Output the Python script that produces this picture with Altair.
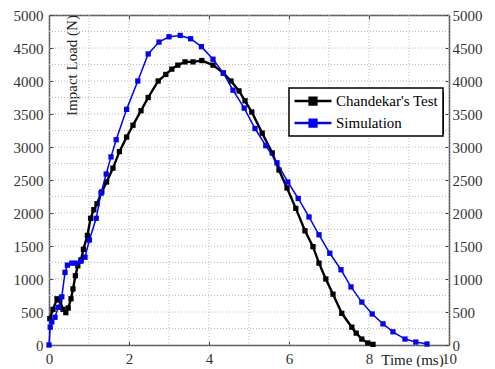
import altair as alt
import pandas as pd

test_t = [0.02, 0.1, 0.2, 0.27, 0.35, 0.42, 0.48, 0.55, 0.6, 0.66, 0.72, 0.8, 0.86, 0.96,
          1.04, 1.12, 1.2, 1.32, 1.44, 1.6, 1.76, 1.94, 2.1, 2.3, 2.48, 2.73, 2.92, 3.07,
          3.22, 3.4, 3.6, 3.82, 4.1, 4.36, 4.55, 4.75, 4.9, 5.07, 5.33, 5.58, 5.75, 5.95,
          6.17, 6.4, 6.6, 6.75, 6.92, 7.1, 7.32, 7.57, 7.68, 7.82, 7.97, 8.1]
test_f = [400, 540, 700, 680, 540, 490, 560, 700, 850, 1050, 1200, 1290, 1450, 1660,
          1920, 2050, 2140, 2320, 2470, 2680, 2930, 3150, 3330, 3550, 3750, 4000, 4100, 4180,
          4240, 4290, 4290, 4310, 4240, 4120, 4000, 3850, 3700, 3530, 3210, 2910, 2650, 2380,
          2070, 1730, 1490, 1240, 1000, 770, 480, 270, 180, 90, 30, 10]

sim_t = [0, 0.03, 0.07, 0.15, 0.23, 0.32, 0.4, 0.46, 0.57, 0.68, 0.8, 0.9, 1.01, 1.18,
         1.3, 1.43, 1.55, 1.68, 1.94, 2.22, 2.48, 2.75, 3.0, 3.28, 3.54, 3.81, 4.1, 4.36,
         4.6, 4.88, 5.15, 5.42, 5.7, 5.97, 6.23, 6.5, 6.75, 7.02, 7.3, 7.55, 7.82, 8.08,
         8.35, 8.6, 8.9, 9.17, 9.45]
sim_f = [0, 270, 350, 420, 570, 730, 1100, 1210, 1240, 1240, 1270, 1330, 1590, 1920,
         2300, 2590, 2850, 3110, 3570, 4000, 4410, 4590, 4670, 4690, 4640, 4520, 4330, 4120,
         3860, 3590, 3280, 3020, 2760, 2470, 2220, 1940, 1670, 1390, 1140, 880, 650, 470,
         320, 200, 90, 45, 15]

series_names = ["Chandekar's Test", "Simulation"]
series_colors = ["#000000", "#0000ff"]

x_grid = list(range(0, 11))
y_grid = list(range(0, 5001, 250))
x_ticks = [0, 2, 4, 6, 8, 10]
y_ticks = list(range(0, 5001, 500))

df_test = pd.DataFrame({"t": test_t, "F": test_f, "series": series_names[0]})
df_sim = pd.DataFrame({"t": sim_t, "F": sim_f, "series": series_names[1]})

FONT = "Liberation Serif, Times New Roman, serif"
xs = alt.Scale(domain=[0, 10], nice=False)
ys = alt.Scale(domain=[0, 5000], nice=False)
cs = alt.Scale(domain=series_names, range=series_colors)

legend = alt.Legend(
    title=None, orient="none", legendX=240, legendY=73,
    strokeColor="black", fillColor="white", padding=4,
    labelFont=FONT, labelFontSize=15, labelColor="black", labelOffset=25,
    symbolType="M-1,0L3.93,0M1.02,-0.45L1.92,-0.45L1.92,0.45L1.02,0.45Z",
    symbolSize=225, symbolStrokeWidth=2.5, rowPadding=4, symbolOpacity=1,
    symbolFillColor={"expr": "scale('color', datum.value)"},
)

tick_in = {"expr": "-4"}

axis_common = dict(domainColor="#555555", domainWidth=1.5, tickColor="#333333",
                   tickWidth=1, tickSize=tick_in, grid=False, format="d",
                   labelFont=FONT, labelFontSize=15, labelColor="#333333")

x_bottom = alt.Axis(values=x_ticks, title="Time (ms)", titleX=363, titleY=14,
                    titleBaseline="middle", titleAlign="center", titleFont=FONT,
                    titleFontSize=15, titleFontWeight="normal", titleColor="#222222",
                    labelPadding=10, labelFlush=False, **axis_common)
y_left = alt.Axis(values=y_ticks, title="Impact Load (N)", titleX=22, titleY=50,
                  titleAngle=270, titleAlign="center", titleBaseline="middle",
                  titleFont=FONT, titleFontSize=15, titleFontWeight="normal",
                  titleColor="#222222", labelPadding=10, labelFlush=False, **axis_common)
x_top = alt.Axis(values=x_ticks, orient="top", labels=False, title=None, **axis_common)
y_right = alt.Axis(values=y_ticks, orient="right", title=None, labelPadding=7,
                   labelFlush=False, **axis_common)

grid_x = alt.Chart(pd.DataFrame({"v": x_grid})).mark_rule(
    color="#bbbbbb", strokeWidth=1, strokeDash=[1, 2]).encode(
    x=alt.X("v:Q", scale=xs, axis=None))
grid_y = alt.Chart(pd.DataFrame({"v": y_grid})).mark_rule(
    color="#bbbbbb", strokeWidth=1, strokeDash=[1, 2]).encode(
    y=alt.Y("v:Q", scale=ys, axis=None))

shadow = alt.Chart(pd.DataFrame({"a": [0]})).mark_rect(color="black").encode(
    x=alt.value(244), x2=alt.value(395), y=alt.value(77), y2=alt.value(119))

test_line = alt.Chart(df_test).mark_line(strokeWidth=2.4).encode(
    x=alt.X("t:Q", scale=xs, axis=x_bottom),
    y=alt.Y("F:Q", scale=ys, axis=y_left),
    color=alt.Color("series:N", scale=cs, legend=legend))
test_pts = alt.Chart(df_test).mark_square(size=28, opacity=1).encode(
    x=alt.X("t:Q", scale=xs, axis=None),
    y=alt.Y("F:Q", scale=ys, axis=None),
    color=alt.Color("series:N", scale=cs, legend=legend))
sim_line = alt.Chart(df_sim).mark_line(strokeWidth=1.5).encode(
    x=alt.X("t:Q", scale=xs, axis=x_top),
    y=alt.Y("F:Q", scale=ys, axis=y_right),
    color=alt.Color("series:N", scale=cs, legend=legend))
sim_pts = alt.Chart(df_sim).mark_square(size=28, opacity=1).encode(
    x=alt.X("t:Q", scale=xs, axis=None),
    y=alt.Y("F:Q", scale=ys, axis=None),
    color=alt.Color("series:N", scale=cs, legend=legend))

chart = alt.layer(grid_x, grid_y, test_line, test_pts, sim_line, sim_pts, shadow).resolve_axis(
    x="independent", y="independent"
).properties(
    width=400, height=330,
    autosize=alt.AutoSizeParams(type="none"),
    padding={"left": 41, "top": 7, "right": 38, "bottom": 22},
).configure_view(stroke=None).configure_legend(strokeWidth=1.5, cornerRadius=0)

chart.save("out.html", embed_options={"renderer": "svg", "actions": False})
